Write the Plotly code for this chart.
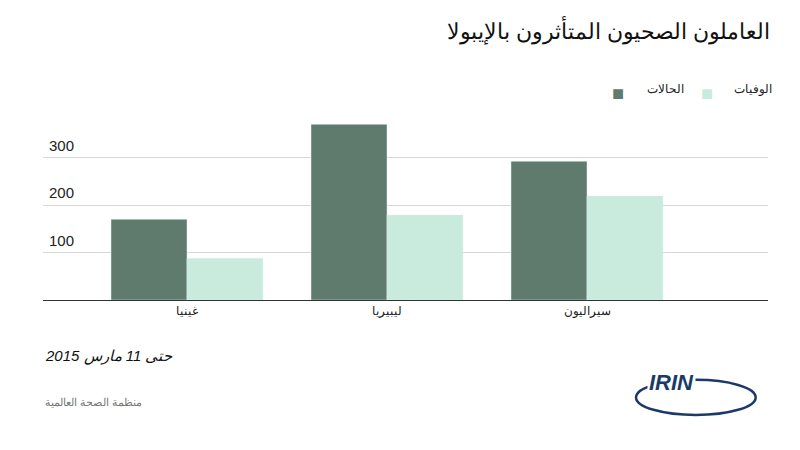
import plotly.graph_objects as go

countries = ["غينيا", "ليبيريا", "سيراليون"]
cases = [170, 370, 292]
deaths = [88, 179, 219]
ticks = [100, 200, 300]

dark = "#5f7b6d"
light = "#c8ebdd"

fig = go.Figure()
fig.add_trace(go.Bar(x=countries, y=cases, name="الحالات", marker_color=dark))
fig.add_trace(go.Bar(x=countries, y=deaths, name="الوفيات", marker_color=light))

for t in ticks:
    fig.add_annotation(x=0.005, xref="paper", y=t, yref="y", text=str(t), showarrow=False,
                       xanchor="left", yanchor="bottom", yshift=2,
                       font=dict(size=15, color="#222"))

fig.update_layout(
    width=800, height=450,
    margin=dict(l=35, r=40, t=102, b=158),
    plot_bgcolor="white", paper_bgcolor="white",
    font=dict(family="Liberation Sans, Arial", color="#222"),
    barmode="group", bargap=0.24, bargroupgap=0,
    showlegend=False,
    xaxis=dict(range=[-0.72, 2.905], showline=True, linecolor="#333", linewidth=1,
               tickfont=dict(size=12), ticks="", fixedrange=True),
    yaxis=dict(range=[0, 400], tickvals=ticks, showticklabels=False,
               gridcolor="#d8d8d8", zeroline=False),
)

# title
fig.add_annotation(x=1.005, xref="paper", y=1.42, yref="paper",
                   text="العاملون الصحيون المتأثرون بالإيبولا", showarrow=False,
                   xanchor="right", yanchor="middle", font=dict(size=22, color="#111"))
# legend
fig.add_annotation(x=0.804, xref="paper", y=1.158, yref="paper", text="■",
                   showarrow=False, font=dict(size=20, color=dark))
fig.add_annotation(x=0.83, xref="paper", y=1.158, yref="paper", text="الحالات",
                   showarrow=False, xanchor="left", font=dict(size=12))
fig.add_annotation(x=0.927, xref="paper", y=1.158, yref="paper", text="■",
                   showarrow=False, font=dict(size=20, color=light))
fig.add_annotation(x=0.95, xref="paper", y=1.158, yref="paper", text="الوفيات",
                   showarrow=False, xanchor="left", font=dict(size=12))
# footer
fig.add_annotation(x=0.0, xref="paper", y=-0.35, yref="paper", text="<i>حتى 11 مارس 2015</i>",
                   showarrow=False, xanchor="left", font=dict(size=15, color="#111"))
fig.add_annotation(x=0.0, xref="paper", y=-0.58, yref="paper", text="منظمة الصحة العالمية",
                   showarrow=False, xanchor="left", font=dict(size=11, color="#777"))
# IRIN logo
fig.add_shape(type="circle", xref="paper", yref="paper", x0=0.818, x1=0.983, y0=-0.605, y1=-0.42,
              line=dict(color="#1a3a6b", width=2.5))
fig.add_annotation(x=0.9, xref="paper", y=-0.51, yref="paper", text="<b><i>IRIN</i></b>",
                   showarrow=False, bgcolor="white", font=dict(size=22, color="#1a3a6b"))
fig.add_shape(type="circle", xref="paper", yref="paper", x0=0.848, x1=0.862, y0=-0.46, y1=-0.41,
              fillcolor="#1a3a6b", line=dict(width=0))

fig.write_html("out.html")
